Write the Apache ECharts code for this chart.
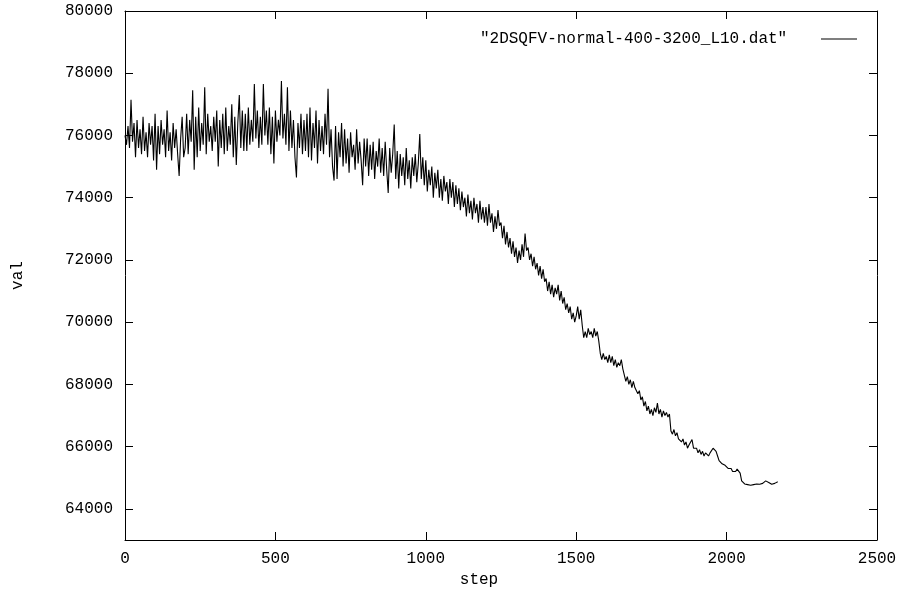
<!DOCTYPE html>
<html>
<head>
<meta charset="utf-8">
<title>2DSQFV val vs step</title>
<script type="text/javascript" src="https://cdn.jsdelivr.net/npm/echarts@6/dist/echarts.min.js"></script>
<style type="text/css">
html, body {margin: 0; padding: 0; background: #fff;}
#main {width: 902px; height: 592px;}
</style>
</head>
<body>
<div id="main"></div>
<script type="text/javascript">
// one reading every 5 steps (20 per row = 100 steps)
var stepSize = 5;
var vals = [
    76000, 75700, 76300, 75600, 77150, 75800, 76400, 75300, 76500, 75600, 76200, 75400, 76600, 75500, 76100, 75300, 76400, 75700, 76300, 75200,
    76700, 74900, 76300, 75400, 76500, 75700, 76200, 75300, 76800, 75500, 76100, 75200, 76400, 75600, 76200, 75400, 74700, 75900, 76600, 75300,
    75600, 76700, 75400, 76500, 75800, 77450, 74900, 76600, 75300, 76900, 75500, 76400, 75700, 77550, 75400, 76700, 75800, 76300, 75500, 76600,
    75800, 76800, 75000, 76500, 75600, 76700, 75400, 76900, 75500, 76300, 75700, 77000, 75300, 76600, 75050, 76400, 77300, 75600, 76800, 75500,
    76700, 75500, 76900, 75700, 76500, 75800, 77650, 75900, 76800, 75600, 76600, 75700, 77650, 76000, 76800, 75700, 76900, 75400, 76600, 75100,
    76800, 75800, 76500, 76000, 77750, 75900, 76700, 75700, 77550, 75500, 76800, 75600, 76500, 75300, 74650, 76400, 75600, 76700, 75400, 76500,
    75500, 76700, 75300, 76900, 75200, 76400, 75600, 76800, 75100, 76500, 75500, 76300, 75400, 76700, 75700, 77500, 75300, 76200, 75000, 74550,
    76300, 74600, 76100, 75300, 76400, 75000, 76200, 75100, 75900, 74800, 76100, 75300, 75700, 74900, 76200, 75100, 75800, 75200, 74400, 75900,
    75000, 75900, 74700, 75700, 74900, 75800, 74600, 75500, 75000, 75900, 74800, 75600, 74700, 75800, 74900, 74150, 75600, 74800, 75400, 76350,
    74600, 75500, 74300, 75400, 74700, 75300, 74400, 75600, 74600, 75200, 74300, 75300, 74700, 75400, 74500, 75100, 76050, 74600, 75300, 74400,
    75200, 74200, 74900, 74400, 75000, 74000, 74800, 74300, 74900, 74000, 74600, 73900, 74700, 74200, 74500, 73800, 74600, 74000, 74500, 73700,
    74400, 73800, 74300, 73600, 74200, 73700, 74000, 73400, 74100, 73500, 73900, 73300, 74000, 73500, 73800, 73200, 73900, 73300, 73700, 73200,
    73700, 73100, 73800, 73200, 73500, 72900, 73400, 73000, 73600, 73100, 73200, 72700, 73100, 72500, 72900, 72400, 72700, 72200, 72600, 72100,
    72400, 71900, 72300, 72000, 72500, 72100, 72850, 72300, 72400, 72000, 72200, 71800, 72100, 71700, 71900, 71500, 71800, 71400, 71700, 71300,
    71400, 71000, 71300, 70900, 71200, 70800, 71100, 70900, 71200, 70700, 71000, 70600, 70800, 70400, 70600, 70300, 70500, 70100, 70300, 70000,
    70200, 70500, 70100, 70400, 69900, 69500, 69700, 69500, 69800, 69600, 69700, 69500, 69800, 69550, 69700, 69400, 69000, 68800, 69000, 68800,
    68900, 68700, 68950, 68700, 68900, 68600, 68800, 68550, 68700, 68600, 68800, 68500, 68300, 68100, 68250, 68000, 68150, 67900, 68100, 67900,
    67900, 67700, 67800, 67500, 67600, 67300, 67450, 67150, 67300, 67050, 67200, 67000, 67250, 67100, 67400, 67050, 67200, 66950, 67150, 67000,
    67100, 66950, 67050, 66500, 66400, 66550, 66350, 66450, 66250, 66300, 66150, 66250, 66050, 66150, 65950, 66050, 66000, 66230, 65950, 65900,
    65950, 65800, 65900, 65750, 65850, 65700, 65800, 65750, 65700, 65800, 65850, 65950, 66000, 65850, 65700, 65550, 65600, 65450, 65500, 65400,
    65350, 65300, 65250, 65300, 65200, 65150, 65200, 65280, 65250, 65150, 64900, 64850, 64800, 64850, 64780, 64820, 64760, 64800, 64780, 64830,
    64800, 64830, 64790, 64840, 64820, 64860, 64900, 64880, 64850, 64810, 64790, 64830, 64820, 64850, 64870
];
var yTicks = [64000, 66000, 68000, 70000, 72000, 74000, 76000, 78000, 80000];
var seriesName = '"2DSQFV-normal-400-3200_L10.dat"';

var points = [];
for (var i = 0; i < vals.length; i++) {
    points.push([i * stepSize, vals[i]]);
}

var font = 'Liberation Mono';
var plain = function (v) { return String(v); };
var myChart = echarts.init(document.getElementById('main'));

var xBase = {
    type: 'value', min: 0, max: 2500, interval: 500,
    axisLine: {onZero: false, lineStyle: {color: '#000', width: 1}},
    axisTick: {show: true, inside: true, length: 8, lineStyle: {color: '#000'}},
    splitLine: {show: false}
};
var yBase = {
    type: 'value', min: 63000, max: 80000,
    axisLine: {show: true, onZero: false, lineStyle: {color: '#000', width: 1}},
    axisTick: {show: true, inside: true, length: 8, customValues: yTicks, lineStyle: {color: '#000'}},
    splitLine: {show: false}
};

var option = {
    animation: false,
    backgroundColor: '#fff',
    grid: {left: 125, right: 25, top: 11, bottom: 52, containLabel: false, outerBoundsMode: 'none'},
    legend: {
        right: 40, top: 26,
        data: [seriesName],
        icon: 'rect',
        itemWidth: 36, itemHeight: 1,
        align: 'right',
        // gnuplot leaves a wide gap before the sample line
        formatter: function (n) { return n + '   '; },
        textStyle: {fontFamily: font, fontSize: 16, color: '#000'}
    },
    xAxis: [
        Object.assign({}, xBase, {
            position: 'bottom',
            name: 'step', nameLocation: 'middle', nameGap: 28,
            nameTextStyle: {fontFamily: font, fontSize: 16, color: '#000', padding: [0, 44, 0, 0]},
            axisLabel: {margin: 11, formatter: plain, fontFamily: font, fontSize: 16, color: '#000'}
        }),
        Object.assign({}, xBase, {position: 'top', axisLabel: {show: false}})
    ],
    yAxis: [
        Object.assign({}, yBase, {
            position: 'left',
            name: 'val', nameLocation: 'middle', nameGap: 99, nameRotate: 90,
            nameTextStyle: {fontFamily: font, fontSize: 16, color: '#000'},
            axisLabel: {margin: 12, customValues: yTicks, formatter: plain, fontFamily: font, fontSize: 16, color: '#000'}
        }),
        Object.assign({}, yBase, {position: 'right', axisLabel: {show: false}})
    ],
    series: [
        {
            name: seriesName,
            type: 'line',
            data: points,
            symbol: 'none',
            sampling: null,
            lineStyle: {color: '#000', width: 1.1},
            itemStyle: {color: '#000'}
        }
    ]
};

myChart.setOption(option);
</script>
</body>
</html>
